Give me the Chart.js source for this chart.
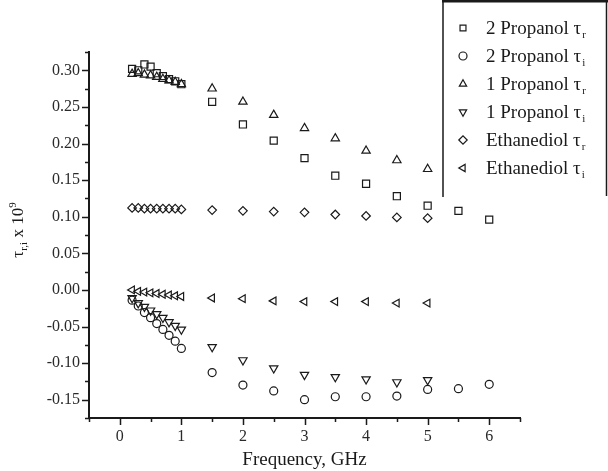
<!DOCTYPE html>
<html><head><meta charset="utf-8">
<script src="https://cdn.jsdelivr.net/npm/chart.js@4/dist/chart.umd.min.js"></script>
<style>html,body{margin:0;padding:0;background:#fff;}canvas{display:block;}</style>
</head><body>
<canvas id="c" width="608" height="471"></canvas>
<script>
// ---- data ----
const freqProp2 = [0.2,0.3,0.4,0.5,0.6,0.7,0.8,0.9,1.0,1.5,2,2.5,3,3.5,4,4.5,5,5.5,6];
const freqProp1 = [0.2,0.3,0.4,0.5,0.6,0.7,0.8,0.9,1.0,1.5,2,2.5,3,3.5,4,4.5,5];
const freqEth   = [0.2,0.3,0.4,0.5,0.6,0.7,0.8,0.9,1.0,1.5,2,2.5,3,3.5,4,4.5,5];

const prop2Real = [0.302,0.300,0.308,0.305,0.296,0.292,0.288,0.285,0.281, 0.257,0.226,0.204,0.180,0.156,0.145,0.128,0.115,0.108,0.096];
const prop2Imag = [-0.014,-0.022,-0.031,-0.038,-0.046,-0.054,-0.062,-0.070,-0.080, -0.113,-0.130,-0.138,-0.150,-0.146,-0.146,-0.145,-0.136,-0.135,-0.129];
const prop1Real = [0.295,0.296,0.294,0.293,0.291,0.288,0.286,0.284,0.281, 0.275,0.257,0.239,0.221,0.207,0.190,0.177,0.165];
const prop1Imag = [-0.011,-0.018,-0.023,-0.028,-0.033,-0.038,-0.044,-0.049,-0.054, -0.078,-0.096,-0.107,-0.116,-0.119,-0.122,-0.126,-0.123];
const ethReal   = [0.112,0.112,0.111,0.111,0.111,0.111,0.111,0.111,0.110, 0.109,0.108,0.107,0.106,0.103,0.101,0.099,0.098];
const ethImag   = [0.000,-0.002,-0.003,-0.004,-0.005,-0.006,-0.007,-0.008,-0.009, -0.011,-0.012,-0.015,-0.016,-0.016,-0.016,-0.018,-0.018];

const legendNames = ['2 Propanol \u03c4','2 Propanol \u03c4','1 Propanol \u03c4','1 Propanol \u03c4','Ethanediol \u03c4','Ethanediol \u03c4'];
const legendSubs  = ['r','i','r','i','r','i'];

const xMajorTicks = [0,1,2,3,4,5,6];
const xMinorTicks = [-0.5,0.5,1.5,2.5,3.5,4.5,5.5,6.5];
const yMajorTicks = [-0.15,-0.10,-0.05,0.00,0.05,0.10,0.15,0.20,0.25,0.30];
const yMinorTicks = [-0.175,-0.125,-0.075,-0.025,0.025,0.075,0.125,0.175,0.225,0.275,0.325];

const SERIF = "'Liberation Serif','Times New Roman',serif";
const INK = '#1a1a1a';

function pts(xs, ys){ return xs.map((x,i)=>({x:x, y:ys[i]})); }

function ds(label, xs, ys, style, rot, r){
  return {label:label, data:pts(xs,ys), pointStyle:style, rotation:rot, pointRadius:r, pointHoverRadius:r,
    borderColor:INK, backgroundColor:'rgba(0,0,0,0)', pointBorderWidth:1.2, showLine:false};
}

const datasets = [
  ds('2 Propanol τr', freqProp2, prop2Real, 'rect', 0, 5),
  ds('2 Propanol τi', freqProp2, prop2Imag, 'circle', 0, 4),
  ds('1 Propanol τr', freqProp1, prop1Real, 'triangle', 0, 4.8),
  ds('1 Propanol τi', freqProp1, prop1Imag, 'triangle', 180, 4.8),
  ds('Ethanediol τr', freqEth, ethReal, 'rectRot', 0, 4.3),
  ds('Ethanediol τi', freqEth, ethImag, 'triangle', -90, 4.5)
];

function drawMarker(ctx, style, rot, r, x, y){
  if (Chart.helpers && Chart.helpers.drawPoint){
    Chart.helpers.drawPoint(ctx, {pointStyle:style, rotation:rot, radius:r, borderWidth:1.2}, x, y);
  }
}

const bgPlugin = {
  id:'bg',
  beforeDraw(chart){ const c=chart.ctx; c.save(); c.fillStyle='#fff'; c.fillRect(0,0,chart.width,chart.height); c.restore(); }
};

const decoPlugin = {
  id:'deco',
  afterDraw(chart){
    const ctx = chart.ctx, xs = chart.scales.x, ys = chart.scales.y;
    ctx.save();
    ctx.strokeStyle = INK; ctx.lineWidth = 1.5;
    // tick marks (outward)
    const bottom = xs.top, left = ys.right;
    ctx.beginPath();
    xMajorTicks.forEach(v=>{ const p=Math.round(xs.getPixelForValue(v))+0.5; ctx.moveTo(p,bottom); ctx.lineTo(p,bottom+7); });
    xMinorTicks.forEach(v=>{ const p=Math.round(xs.getPixelForValue(v))+0.5; ctx.moveTo(p,bottom); ctx.lineTo(p,bottom+4); });
    yMajorTicks.forEach(v=>{ const p=Math.round(ys.getPixelForValue(v))+0.5; ctx.moveTo(left,p); ctx.lineTo(left-7,p); });
    yMinorTicks.forEach(v=>{ const p=Math.round(ys.getPixelForValue(v))+0.5; ctx.moveTo(left,p); ctx.lineTo(left-4,p); });
    ctx.stroke();

    // y-axis title: tau_{r,i} x 10^9 (rotated)
    ctx.save();
    ctx.translate(17, 230);
    ctx.rotate(-Math.PI/2);
    ctx.fillStyle = INK;
    ctx.textBaseline = 'alphabetic';
    const big = '17px ' + SERIF, small = '11px ' + SERIF;
    const parts = [['\u03c4', big, 0], ['r,i', small, 4], [' x 10', big, 0], ['9', small, -7]];
    let total = 0;
    parts.forEach(p=>{ ctx.font=p[1]; total += ctx.measureText(p[0]).width; });
    let cx = -total/2;
    parts.forEach(p=>{ ctx.font=p[1]; ctx.fillText(p[0], cx, 6 + p[2]); cx += ctx.measureText(p[0]).width; });
    ctx.restore();

    // legend box (top-right, partly outside plot)
    ctx.lineWidth = 3;
    ctx.beginPath(); ctx.moveTo(442,1); ctx.lineTo(608,1); ctx.stroke();
    ctx.lineWidth = 1.5;
    ctx.beginPath(); ctx.moveTo(443,0); ctx.lineTo(443,197); ctx.moveTo(606.5,0); ctx.lineTo(606.5,196); ctx.stroke();

    chart.data.datasets.forEach((d,i)=>{
      const y = 28 + i*28;
      ctx.strokeStyle = INK; ctx.fillStyle = 'rgba(0,0,0,0)'; ctx.lineWidth = 1.2;
      drawMarker(ctx, d.pointStyle, d.rotation, Math.min(d.pointRadius, 4.2), 463, y);
      ctx.fillStyle = INK;
      ctx.textBaseline = 'alphabetic';
      ctx.font = '19px ' + SERIF;
      ctx.fillText(legendNames[i], 486, y + 6);
      const w = ctx.measureText(legendNames[i]).width;
      ctx.font = '11px ' + SERIF;
      ctx.fillText(legendSubs[i], 486 + w + 1, y + 10);
    });
    ctx.restore();
  }
};

new Chart(document.getElementById('c'), {
  type:'scatter',
  data:{datasets:datasets},
  plugins:[bgPlugin, decoPlugin],
  options:{
    responsive:false, animation:false, devicePixelRatio:1,
    layout:{padding:{left:0, top:52, right:88, bottom:0}},
    plugins:{legend:{display:false}, tooltip:{enabled:false}, title:{display:false}},
    scales:{
      x:{type:'linear', min:-0.5, max:6.5,
        afterBuildTicks:s=>{ s.ticks = xMajorTicks.map(v=>({value:v})); },
        afterFit:s=>{ s.height = 53; },
        grid:{display:false, drawTicks:false},
        border:{display:true, width:2, color:INK},
        ticks:{font:{family:SERIF, size:16}, color:'#2a2a2a', padding:9, maxRotation:0, autoSkip:false,
          callback:v=>String(v)},
        title:{display:true, text:'Frequency, GHz', font:{family:SERIF, size:19}, color:INK, padding:{top:0,bottom:0}}
      },
      y:{type:'linear', min:-0.175, max:0.325,
        afterBuildTicks:s=>{ s.ticks = yMajorTicks.map(v=>({value:v})); },
        afterFit:s=>{ s.width = 89; },
        grid:{display:false, drawTicks:false},
        border:{display:true, width:2, color:INK},
        ticks:{font:{family:SERIF, size:16}, color:'#2a2a2a', padding:9, autoSkip:false,
          callback:v=>v.toFixed(2)}
      }
    }
  }
});
</script>
</body></html>
